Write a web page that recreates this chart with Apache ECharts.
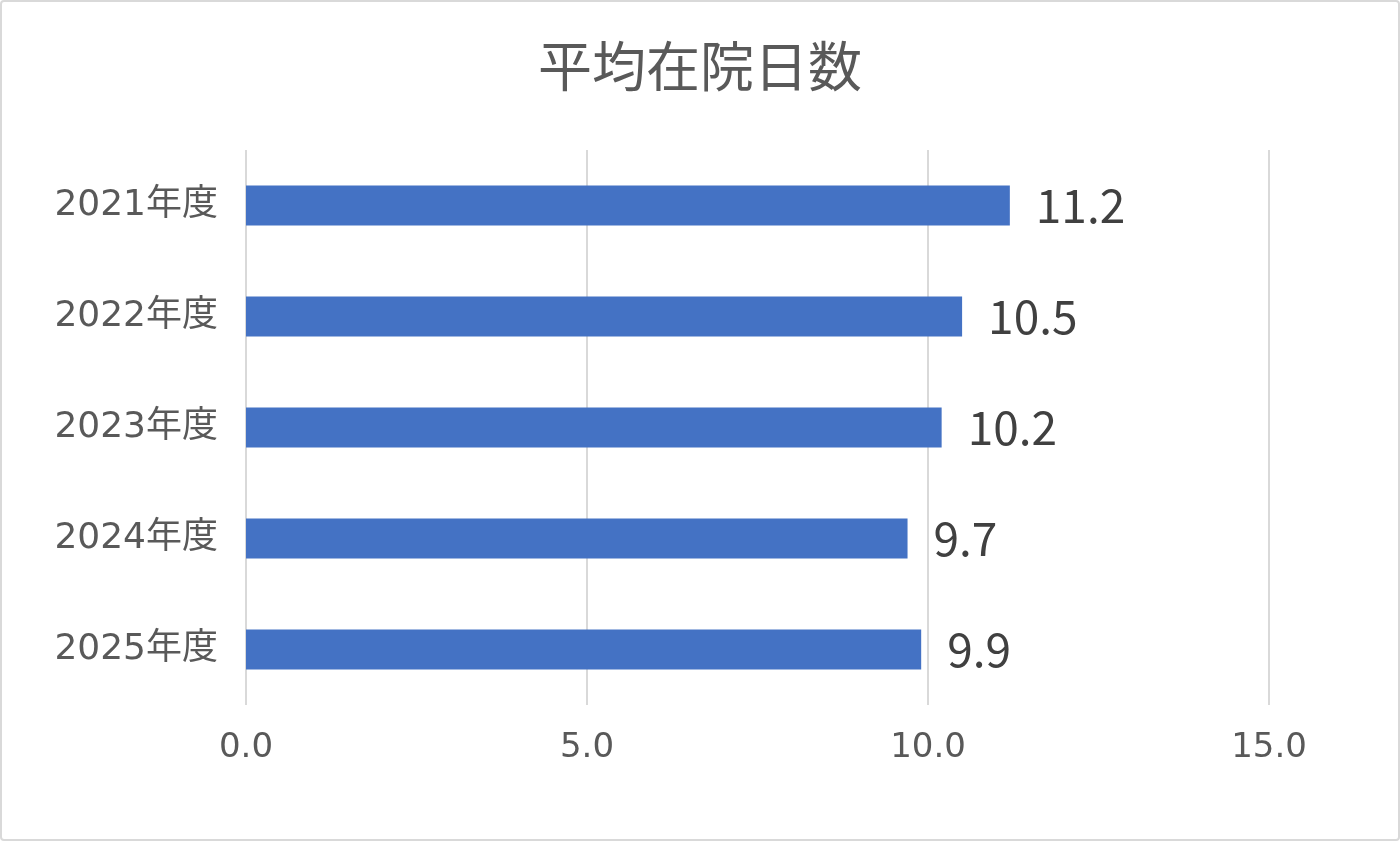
<!DOCTYPE html>
<html>
<head>
<meta charset="utf-8">
<script src="https://cdn.jsdelivr.net/npm/echarts@6/dist/echarts.min.js"></script>
<style>
  html, body { margin: 0; padding: 0; background: #fff; }
  #chart { width: 1400px; height: 841px; box-sizing: border-box; border: 2px solid #d9d9d9; border-radius: 4px; }
</style>
</head>
<body>
<div id="chart"></div>
<script>
const years = ['2021年度', '2022年度', '2023年度', '2024年度', '2025年度'];
const avgDays = [11.2, 10.5, 10.2, 9.7, 9.9];
const xTicks = [0, 5, 10, 15];

const font = '"Noto Sans CJK JP", "Noto Sans", sans-serif';
const wideFont = '"DejaVu Sans", "Noto Sans CJK JP", sans-serif';
const chart = echarts.init(document.getElementById('chart'));

chart.setOption({
  animation: false,
  textStyle: { fontFamily: font },
  title: {
    text: '平均在院日数',
    left: 'center',
    top: 32,
    textStyle: { fontSize: 54, fontWeight: 'normal', color: '#595959', fontFamily: font }
  },
  grid: { left: 244, right: 129, top: 148, bottom: 134 },
  xAxis: {
    type: 'value',
    min: xTicks[0],
    max: xTicks[xTicks.length - 1],
    interval: 5,
    axisLine: { show: false },
    axisTick: { show: false },
    splitLine: { lineStyle: { color: '#d9d9d9', width: 2 } },
    axisLabel: {
      margin: 26,
      fontSize: 34,
      color: '#595959',
      fontFamily: wideFont,
      formatter: v => v.toFixed(1)
    }
  },
  yAxis: {
    type: 'category',
    data: years,
    inverse: true,
    axisLine: { show: false },
    axisTick: { show: false },
    axisLabel: { margin: 28, fontSize: 36, color: '#595959', fontFamily: wideFont }
  },
  series: [{
    type: 'bar',
    data: avgDays,
    barWidth: 40,
    itemStyle: { color: '#4472c4' },
    label: {
      show: true,
      position: 'right',
      distance: 26,
      fontSize: 46,
      color: '#404040',
      formatter: p => p.value.toFixed(1)
    }
  }]
});
</script>
</body>
</html>
